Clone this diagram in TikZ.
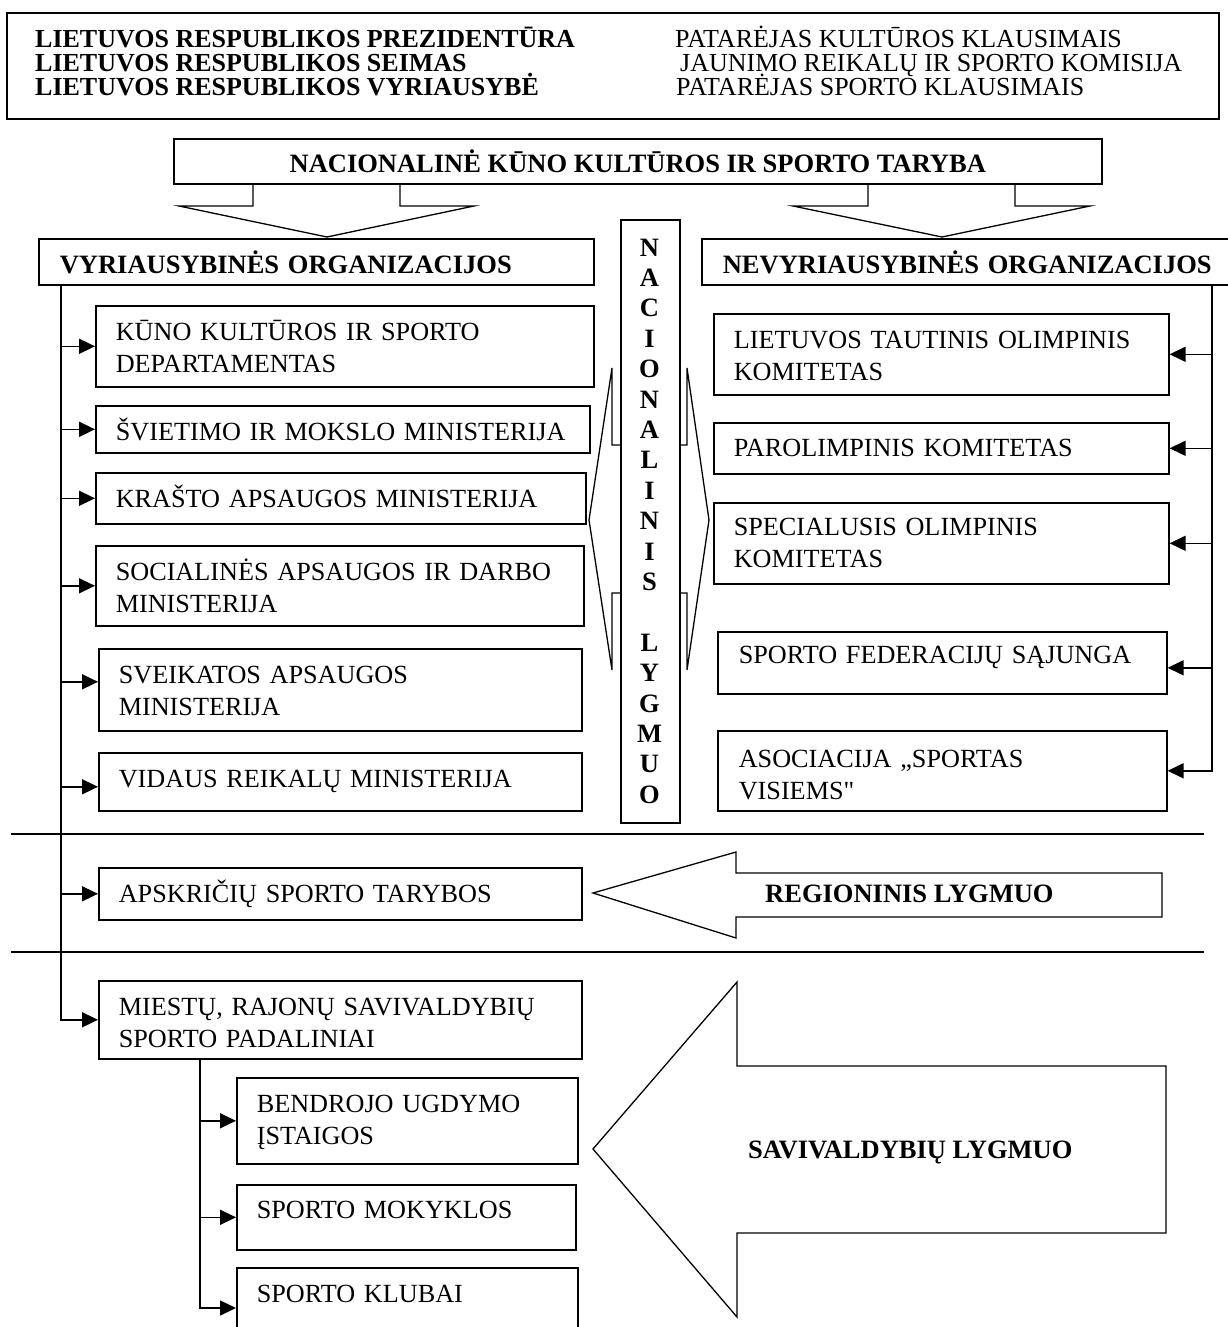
\documentclass[tikz,border=0pt]{standalone}
\usepackage{fontspec}
\setmainfont{Liberation Serif}[Ligatures=TeXOff]
\usetikzlibrary{arrows.meta,calc}
\newcommand{\myfr}{\fontsize{26.2}{32}\selectfont}
\newcommand{\myfb}{\fontsize{26.5}{32}\selectfont\bfseries}
\newcommand{\myfh}{\fontsize{26}{24}\selectfont}
\tikzset{
  bx/.style={draw, line width=1.6pt, fill=white, anchor=north west, inner xsep=20pt, inner ysep=0pt, text height=35pt, align=left, font=\myfr},
  ln/.style={line width=1.6pt},
  arr/.style={line width=1.6pt, -{Triangle[length=16pt,width=15pt]}},
  shp/.style={line width=1.3pt, line join=miter},
  hd/.style={anchor=base west, inner sep=0pt, font=\myfh},
}
\begin{document}
\begin{tikzpicture}[x=1pt,y=-1pt]
\fill[white] (0,0) rectangle (1228,1327);
\useasboundingbox (0,0) rectangle (1228,1327);

% header
\node[draw, line width=2pt, minimum width=1212pt, minimum height=106pt, anchor=north west, inner sep=0pt] (hdr) at (6,12) {};
\node[hd, font=\myfh\bfseries] (h1) at (35,48) {LIETUVOS RESPUBLIKOS PREZIDENTŪRA};
\node[hd, font=\myfh\bfseries] (h2) at (35,72) {LIETUVOS RESPUBLIKOS SEIMAS};
\node[hd, font=\myfh\bfseries] (h3) at (35,96) {LIETUVOS RESPUBLIKOS VYRIAUSYBĖ};
\node[hd] (h4) at (675,48) {PATARĖJAS KULTŪROS KLAUSIMAIS};
\node[hd] (h5) at (680,72) {JAUNIMO REIKALŲ IR SPORTO KOMISIJA};
\node[hd] (h6) at (676,96) {PATARĖJAS SPORTO KLAUSIMAIS};

% title
\node[draw, line width=1.6pt, minimum width=928pt, minimum height=45pt, anchor=north west, inner sep=0pt, font=\myfb] (nkkst) at (173,138) {NACIONALINĖ KŪNO KULTŪROS IR SPORTO TARYBA};

% block down arrows
\draw[shp] (253,183) -- (253,206) -- (179,206) -- (327,237) -- (474,206) -- (400,206) -- (400,183);
\draw[shp] (868,183) -- (868,206) -- (793,206) -- (942,237) -- (1090,206) -- (1015,206) -- (1015,183);

% double arrow behind national box
\draw[shp, fill=white] (589,520) -- (612,368) -- (612,445) -- (687,445) -- (687,368) -- (709,520) -- (687,670) -- (687,593) -- (612,593) -- (612,670) -- cycle;
\node[draw, line width=1.6pt, fill=white, minimum width=59pt, minimum height=603pt, anchor=north west, inner sep=0pt] (nacbox) at (620,219) {};
\node[font=\bfseries\fontsize{26.5}{30.4}\selectfont, text width=50pt, align=center, anchor=base, inner sep=0pt] (naclbl) at (649.5,256) {N\\A\\C\\I\\O\\N\\A\\L\\I\\N\\I\\S\\\mbox{}\\L\\Y\\G\\M\\U\\O};

% left column
\node[bx, font=\myfb, inner xsep=21pt, text width=513pt, text depth=11pt] (vyr) at (38,238) {\mbox{VYRIAUSYBINĖS ORGANIZACIJOS}};
\node[bx, text width=458pt, text depth=46pt] (kuno) at (95,305) {\mbox{KŪNO KULTŪROS IR SPORTO}\\\mbox{DEPARTAMENTAS}};
\node[bx, text width=454pt, text depth=12pt] (svi) at (95,405) {\mbox{ŠVIETIMO IR MOKSLO MINISTERIJA}};
\node[bx, text width=450pt, text depth=16pt] (kra) at (95,472) {\mbox{KRAŠTO APSAUGOS MINISTERIJA}};
\node[bx, text width=448pt, text depth=45pt] (soc) at (95,545) {\mbox{SOCIALINĖS APSAUGOS IR DARBO}\\\mbox{MINISTERIJA}};
\node[bx, text width=443pt, text depth=47pt] (sve) at (98,648) {\mbox{SVEIKATOS APSAUGOS}\\\mbox{MINISTERIJA}};
\node[bx, text width=443pt, text depth=23pt] (vid) at (98,752) {\mbox{VIDAUS REIKALŲ MINISTERIJA}};
\node[bx, text width=443pt, text depth=17pt] (aps) at (98,867) {\mbox{APSKRIČIŲ SPORTO TARYBOS}};
\node[bx, text width=443pt, text depth=43pt] (mie) at (98,980) {\mbox{MIESTŲ, RAJONŲ SAVIVALDYBIŲ}\\\mbox{SPORTO PADALINIAI}};
\node[bx, text width=301pt, text depth=51pt] (ben) at (236,1077) {\mbox{BENDROJO UGDYMO}\\\mbox{ĮSTAIGOS}};
\node[bx, text width=299pt, text height=34pt, text depth=31pt] (mok) at (236,1184) {\mbox{SPORTO MOKYKLOS}};
\node[bx, text width=301pt, text depth=65pt] (klu) at (236,1267) {\mbox{SPORTO KLUBAI}};

% right column
\node[bx, font=\myfb, inner xsep=21pt, text width=503pt, text depth=11pt] (nev) at (701,238) {\mbox{NEVYRIAUSYBINĖS ORGANIZACIJOS}};
\node[bx, text width=415pt, text depth=46pt] (ltok) at (713,313) {\mbox{LIETUVOS TAUTINIS OLIMPINIS}\\\mbox{KOMITETAS}};
\node[bx, text width=415pt, text height=34pt, text depth=17pt] (par) at (713,422) {\mbox{PAROLIMPINIS KOMITETAS}};
\node[bx, text width=415pt, text height=33pt, text depth=48pt] (spe) at (713,502) {\mbox{SPECIALUSIS OLIMPINIS}\\\mbox{KOMITETAS}};
\node[bx, inner xsep=21pt, text width=407pt, text height=32pt, text depth=30pt] (sfs) at (717,631) {\mbox{SPORTO FEDERACIJŲ SĄJUNGA}};
\node[bx, inner xsep=21pt, text width=407pt, text height=37pt, text depth=43pt] (aso) at (717,730) {\mbox{ASOCIACIJA „SPORTAS}\\\mbox{VISIEMS"}};

% connector end points
\coordinate (svep) at ([yshift=8pt]sve.west);
\coordinate (vidp) at ([yshift=-5pt]vid.west);
\coordinate (sfsp) at ([yshift=-5pt]sfs.east);
\coordinate (klup) at ($(klu.north west)+(0,41)$);

% left trunk
\coordinate (lt) at (61,284);
\draw[arr] (lt) |- (mie.west);
\draw[arr] (lt |- kuno.west) -- (kuno.west);
\draw[arr] (lt |- svi.west) -- (svi.west);
\draw[arr] (lt |- kra.west) -- (kra.west);
\draw[arr] (lt |- soc.west) -- (soc.west);
\draw[arr] (lt |- svep) -- (svep);
\draw[arr] (lt |- vidp) -- (vidp);
\draw[arr] (lt |- aps.west) -- (aps.west);

% sub trunk
\coordinate (st) at (200,1058);
\draw[arr] (st) |- (klup);
\draw[arr] (st |- ben.west) -- (ben.west);
\draw[arr] (st |- mok.west) -- (mok.west);

% right trunk
\coordinate (rt) at (1212,284);
\draw[arr] (rt) |- (aso.east);
\draw[arr] (rt |- ltok.east) -- (ltok.east);
\draw[arr] (rt |- par.east) -- (par.east);
\draw[arr] (rt |- spe.east) -- (spe.east);
\draw[arr] (rt |- sfsp) -- (sfsp);

% separators
\coordinate (s1a) at (11,834); \coordinate (s1b) at (1204,834);
\coordinate (s2a) at (11,952); \coordinate (s2b) at (1204,952);
\draw[ln] (s1a) -- (s1b);
\draw[ln] (s2a) -- (s2b);

% regional arrow
\draw[shp] (593,893) -- (736,852) -- (736,873) -- (1162,873) -- (1162,917) -- (736,917) -- (736,938) -- cycle;
\node[anchor=base west, inner sep=0pt, font=\myfb] (regl) at (765,902) {REGIONINIS LYGMUO};

% municipal arrow
\draw[shp] (593,1149) -- (737,982) -- (737,1066) -- (1166,1066) -- (1166,1233) -- (737,1233) -- (737,1317) -- cycle;
\node[anchor=base west, inner sep=0pt, font=\myfb] (savl) at (748,1158) {SAVIVALDYBIŲ LYGMUO};
\end{tikzpicture}
\end{document}
